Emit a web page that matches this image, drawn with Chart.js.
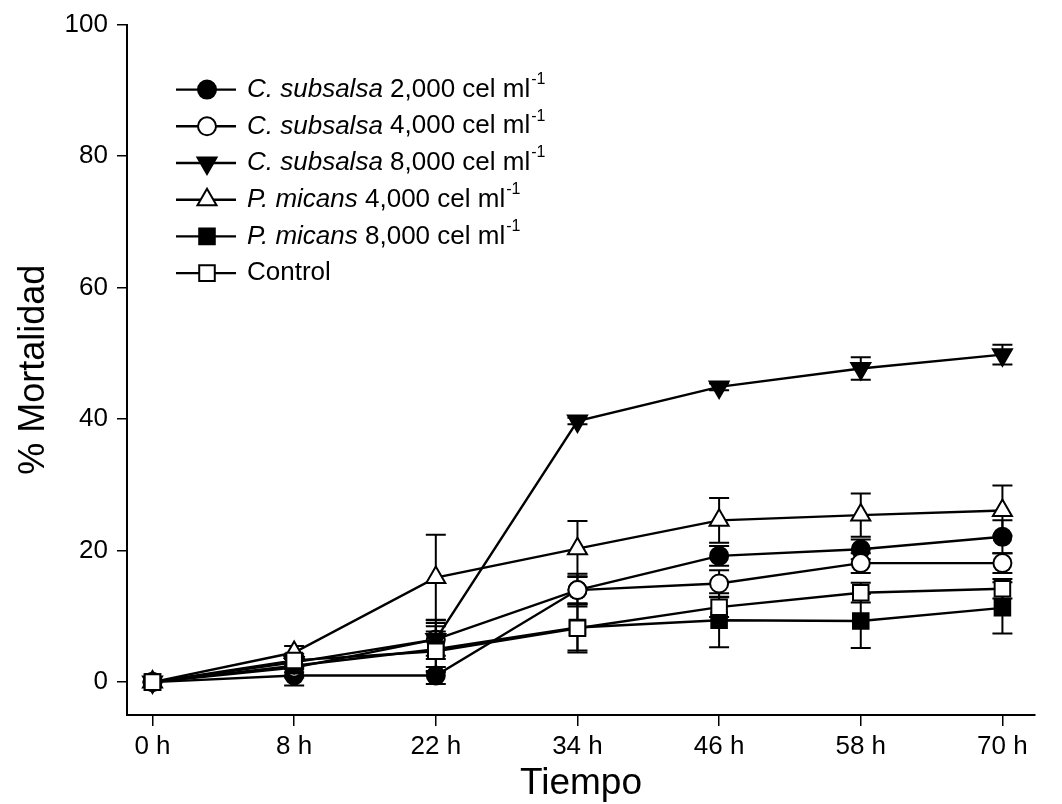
<!DOCTYPE html>
<html>
<head>
<meta charset="utf-8">
<script src="https://cdn.jsdelivr.net/npm/chart.js@4.4.0/dist/chart.umd.min.js"></script>
<style>
  body { margin: 0; background: #fff; }
  canvas { display: block; }
</style>
</head>
<body>
<canvas id="mortChart" width="1062" height="804"></canvas>
<script>
// values (% mortalidad, mean and error)
var timeLabels = ['0 h', '8 h', '22 h', '34 h', '46 h', '58 h', '70 h'];
var yTicks = [0, 20, 40, 60, 80, 100];

var cs2000 = [0, 1, 1, 14, 19.2, 20.2, 22.1];
var cs2000Err = [0, 1.5, 1.3, 2, 1.5, 1.5, 2.5];
var cs4000 = [0, 2.2, 6.5, 14, 15, 18.1, 18.1];
var cs4000Err = [0, 1.5, 3, 2.5, 2, 1.5, 1.5];
var cs8000 = [0, 3, 6.5, 39.7, 44.9, 47.7, 49.8];
var cs8000Err = [0, 1, 2.5, 0.5, 0.5, 1.7, 1.5];
var pm4000 = [0, 4.5, 15.9, 20.3, 24.6, 25.4, 26.1];
var pm4000Err = [0, 1, 6.5, 4.2, 3.4, 3.3, 3.8];
var pm8000 = [0, 2.5, 5, 8.3, 9.4, 9.3, 11.3];
var pm8000Err = [0, 1, 3.5, 3.5, 4.1, 4.1, 3.9];
var control = [0, 3.3, 4.7, 8.2, 11.4, 13.6, 14.2];
var controlErr = [0, 1, 3, 3.7, 1.5, 1.5, 1.5];

// legend text: italic species part + plain dose part
var legendSpecies = ['C. subsalsa', 'C. subsalsa', 'C. subsalsa', 'P. micans', 'P. micans', ''];
var legendDose = ['2,000 cel ml', '4,000 cel ml', '8,000 cel ml', '4,000 cel ml', '8,000 cel ml', 'Control'];
var legendSup = ['-1', '-1', '-1', '-1', '-1', ''];

var FONT = '"Liberation Sans", Arial, sans-serif';

function toPoints(vals) {
    return vals.map(function (v, i) { return { x: i, y: v }; });
}

function makeSet(label, vals, errs, style, filled, radius, rotation, order) {
    return {
        label: label,
        data: toPoints(vals),
        errors: errs,
        borderColor: '#000',
        backgroundColor: filled ? '#000' : '#fff',
        borderWidth: 2.4,
        pointStyle: style,
        pointRadius: radius,
        pointRotation: rotation,
        pointBorderWidth: 2,
        pointBorderColor: '#000',
        pointBackgroundColor: filled ? '#000' : '#fff',
        tension: 0,
        order: order
    };
}

var datasets = [
    makeSet('C. subsalsa 2,000', cs2000, cs2000Err, 'circle', true, 9, 0, 5),
    makeSet('C. subsalsa 4,000', cs4000, cs4000Err, 'circle', false, 9, 0, 4),
    makeSet('C. subsalsa 8,000', cs8000, cs8000Err, 'triangle', true, 11, 180, 3),
    makeSet('P. micans 4,000', pm4000, pm4000Err, 'triangle', false, 11, 0, 2),
    makeSet('P. micans 8,000', pm8000, pm8000Err, 'rect', true, 11, 0, 1),
    makeSet('Control', control, controlErr, 'rect', false, 11, 0, 0)
];

var errorBars = {
    id: 'errorBars',
    beforeDatasetDraw: function (chart, args) {
        var ds = chart.data.datasets[args.index];
        if (!ds.errors) return;
        var ctx = chart.ctx;
        var xs = chart.scales.x, ys = chart.scales.y;
        ctx.save();
        ctx.strokeStyle = '#000';
        ctx.lineWidth = 2;
        ds.data.forEach(function (p, i) {
            var e = ds.errors[i];
            if (!e) return;
            var px = xs.getPixelForValue(p.x);
            var top = ys.getPixelForValue(p.y + e);
            var bot = ys.getPixelForValue(p.y - e);
            ctx.beginPath();
            ctx.moveTo(px, top); ctx.lineTo(px, bot);
            ctx.moveTo(px - 10, top); ctx.lineTo(px + 10, top);
            ctx.moveTo(px - 10, bot); ctx.lineTo(px + 10, bot);
            ctx.stroke();
        });
        ctx.restore();
    }
};

var figLegend = {
    id: 'figLegend',
    afterDraw: function (chart) {
        var ctx = chart.ctx;
        var area = chart.chartArea;
        var x0 = area.left + 49, y0 = area.top + 65, rowH = 36.7;
        ctx.save();
        chart.data.datasets.forEach(function (ds, i) {
            var y = y0 + i * rowH;
            ctx.strokeStyle = '#000';
            ctx.lineWidth = 2.4;
            ctx.beginPath();
            ctx.moveTo(x0, y); ctx.lineTo(x0 + 60, y);
            ctx.stroke();
            ctx.fillStyle = ds.pointBackgroundColor;
            ctx.strokeStyle = '#000';
            ctx.lineWidth = 2;
            Chart.helpers.drawPoint(ctx, {
                pointStyle: ds.pointStyle,
                rotation: ds.pointRotation,
                radius: ds.pointRadius,
                borderWidth: 2
            }, x0 + 31, y);

            var tx = x0 + 71;
            ctx.fillStyle = '#000';
            ctx.textBaseline = 'middle';
            ctx.textAlign = 'left';
            if (legendSpecies[i]) {
                ctx.font = 'italic 26px ' + FONT;
                ctx.fillText(legendSpecies[i], tx, y);
                tx += ctx.measureText(legendSpecies[i] + ' ').width;
            }
            ctx.font = '26px ' + FONT;
            ctx.fillText(legendDose[i], tx, y);
            tx += ctx.measureText(legendDose[i]).width;
            if (legendSup[i]) {
                ctx.font = '16px ' + FONT;
                ctx.fillText(legendSup[i], tx + 1, y - 10);
            }
        });
        ctx.restore();
    }
};

var ctx = document.getElementById('mortChart').getContext('2d');
var mortChart = new Chart(ctx, {
    type: 'line',
    data: { datasets: datasets },
    options: {
        responsive: false,
        animation: false,
        devicePixelRatio: 1,
        layout: { padding: { top: 20, right: 27, left: 0, bottom: 0 } },
        plugins: {
            legend: { display: false },
            tooltip: { enabled: false }
        },
        scales: {
            x: {
                type: 'linear',
                min: -0.18,
                max: 6.23,
                afterFit: function (s) { s.height = 89; },
                afterBuildTicks: function (s) {
                    s.ticks = timeLabels.map(function (l, i) { return { value: i }; });
                },
                ticks: {
                    color: '#000',
                    font: { family: FONT, size: 26 },
                    padding: 5,
                    maxRotation: 0,
                    callback: function (v) { return timeLabels[v]; }
                },
                grid: { drawOnChartArea: false, drawTicks: true, tickLength: 11, color: '#000', lineWidth: 1.5 },
                border: { display: true, color: '#000', width: 2 },
                title: {
                    display: true,
                    text: 'Tiempo',
                    color: '#000',
                    font: { family: FONT, size: 37, lineHeight: 1.1 },
                    padding: { top: 0, bottom: 0 }
                }
            },
            y: {
                min: -5,
                max: 100,
                afterFit: function (s) { s.width = 127; },
                afterBuildTicks: function (s) {
                    s.ticks = yTicks.map(function (v) { return { value: v }; });
                },
                ticks: {
                    color: '#000',
                    font: { family: FONT, size: 26 },
                    padding: 9
                },
                grid: { drawOnChartArea: false, drawTicks: true, tickLength: 10, color: '#000', lineWidth: 1.5 },
                border: { display: true, color: '#000', width: 2 },
                title: {
                    display: true,
                    text: '% Mortalidad',
                    color: '#000',
                    font: { family: FONT, size: 36, lineHeight: 1.1 },
                    padding: { top: 14, bottom: 0 }
                }
            }
        }
    },
    plugins: [errorBars, figLegend]
});
</script>
</body>
</html>
